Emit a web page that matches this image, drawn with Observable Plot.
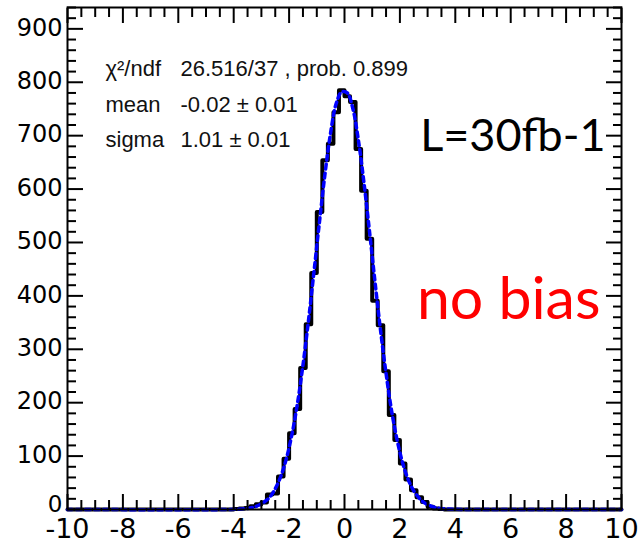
<!DOCTYPE html>
<html><head><meta charset="utf-8">
<script src="https://cdn.jsdelivr.net/npm/d3@7"></script>
<script src="https://cdn.jsdelivr.net/npm/@observablehq/plot@0.6"></script>
<style>
html,body{margin:0;padding:0;background:#fff;}
</style></head><body><div id="chart"></div>
<script>
// Histogram bins (lower edge, width 0.2) and counts
const binLo = [-4.0,-3.8,-3.6,-3.4,-3.2,-3.0,-2.8,-2.6,-2.4,-2.2,-2.0,-1.8,-1.6,-1.4,-1.2,-1.0,-0.8,-0.6,-0.4,-0.2,
               0.0,0.2,0.4,0.6,0.8,1.0,1.2,1.4,1.6,1.8,2.0,2.2,2.4,2.6,2.8,3.0,3.2,3.4,3.6];
const counts = [1,2,3,6,10,13,28,30,62,95,143,188,265,347,443,557,654,685,744,785,
                774,763,675,597,507,391,345,259,177,130,86,56,36,23,14,5,2,1,0];
const binWidth = 0.2;
const xRange = [-10, 10];
const yRange = [0, 940];

// Gaussian fit curve (blue dashed), read at bin centres
const fitX = [-10,-4.1,-3.9,-3.7,-3.5,-3.3,-3.1,-2.9,-2.7,-2.5,-2.3,-2.1,-1.9,-1.7,-1.5,-1.3,-1.1,-0.9,-0.7,-0.5,-0.3,-0.1,
              0.1,0.3,0.5,0.7,0.9,1.1,1.3,1.5,1.7,1.9,2.1,2.3,2.5,2.7,2.9,3.1,3.3,3.5,3.7,3.9,10];
const fitY = [0,0,0.5,1,2,4,8,14,23,39,62,95,140,198,270,354,446,540,630,706,760,782,
              780,751,692,613,522,427,336,255,185,130,87,56,35,21,12,7,3.6,1.8,0.9,0.4,0];

// Axis ticks
const xTicks = [-10,-8,-6,-4,-2,0,2,4,6,8,10];
const yTicks = [0,100,200,300,400,500,600,700,800,900];
const xMinor = d3.range(-10, 10.001, 0.5).filter(v => !xTicks.includes(v));
const yMinor = d3.range(0, 941, 20).filter(v => !yTicks.includes(v));

// Texts
const statLabels = ["χ²/ndf", "mean", "sigma"];
const statValues = ["26.516/37 , prob. 0.899", "-0.02 ± 0.01", "1.01 ± 0.01"];
const lumiLabel = "L=30fb-1";
const biasLabel = "no bias";

const histPts = [{x: xRange[0], y: 0}];
binLo.forEach((lo, i) => histPts.push({x: lo, y: counts[i]}));
histPts.push({x: binLo[binLo.length - 1] + binWidth, y: 0});
histPts.push({x: xRange[1], y: 0});
const fitPts = fitX.map((x, i) => ({x, y: fitY[i]}));

const tickStyle = {fill: "none", stroke: "#000", strokeWidth: 2, label: null};
const fmt = d => String(d);

const chart = Plot.plot({
  width: 641, height: 549,
  marginLeft: 67, marginRight: 20, marginTop: 7, marginBottom: 40,
  x: {domain: xRange},
  y: {domain: yRange},
  style: {fontFamily: "'DejaVu Sans', sans-serif", color: "#000", background: "#fff"},
  marks: [
    Plot.line(histPts, {x: "x", y: "y", curve: "step-after", stroke: "#000", strokeWidth: 4}),
    Plot.line(fitPts, {x: "x", y: "y", curve: "catmull-rom", stroke: "#0000ff", strokeWidth: 3.5, strokeDasharray: "5,4"}),
    Plot.frame({stroke: "#000", strokeWidth: 2}),
    Plot.axisX(xTicks, {anchor: "bottom", tickSize: 15, dy: -15, ...tickStyle}),
    Plot.axisX(xMinor, {anchor: "bottom", tickSize: 9, dy: -9, ...tickStyle}),
    Plot.axisX(xTicks, {anchor: "top", tickSize: 15, dy: 15, ...tickStyle}),
    Plot.axisX(xMinor, {anchor: "top", tickSize: 9, dy: 9, ...tickStyle}),
    Plot.axisY(yTicks, {anchor: "left", tickSize: 16, dx: 16, ...tickStyle}),
    Plot.axisY(yMinor, {anchor: "left", tickSize: 9, dx: 9, ...tickStyle}),
    Plot.axisY(yTicks, {anchor: "right", tickSize: 16, dx: -16, ...tickStyle}),
    Plot.axisY(yMinor, {anchor: "right", tickSize: 9, dx: -9, ...tickStyle}),
    Plot.axisX(xTicks, {anchor: "bottom", tickSize: 0, tickPadding: 9, fontSize: 27, label: null, fill: "#000", tickFormat: fmt}),
    Plot.axisY(yTicks.slice(1), {anchor: "left", tickSize: 0, tickPadding: 5, dy: -1, fontSize: 24, label: null, fill: "#000", tickFormat: fmt}),
    Plot.axisY(yTicks.slice(0, 1), {anchor: "left", tickSize: 0, tickPadding: 5, dy: -5, fontSize: 23, label: null, fill: "#000", tickFormat: fmt}),
    Plot.text([statLabels.join("\n")], {text: d => d, frameAnchor: "top-left", textAnchor: "start", lineAnchor: "top",
      dx: 38, dy: 44, fontSize: 22, lineHeight: 1.6, fontFamily: "'Liberation Sans', Arial, sans-serif", fill: "#111"}),
    Plot.text([statValues.join("\n")], {text: d => d, frameAnchor: "top-left", textAnchor: "start", lineAnchor: "top",
      dx: 113, dy: 44, fontSize: 22, lineHeight: 1.6, fontFamily: "'Liberation Sans', Arial, sans-serif", fill: "#111"}),
    Plot.text([lumiLabel], {text: d => d, frameAnchor: "top-right", textAnchor: "end", lineAnchor: "top",
      dx: -16, dy: 112, fontSize: 45, fontFamily: "Lato, sans-serif", fill: "#000"}),
    Plot.text([biasLabel], {text: d => d, frameAnchor: "top-right", textAnchor: "end", lineAnchor: "top",
      dx: -21, dy: 270, fontSize: 59, fontFamily: "Lato, sans-serif", fill: "#ff0000"})
  ]
});
document.getElementById("chart").appendChild(chart);
</script></body></html>
